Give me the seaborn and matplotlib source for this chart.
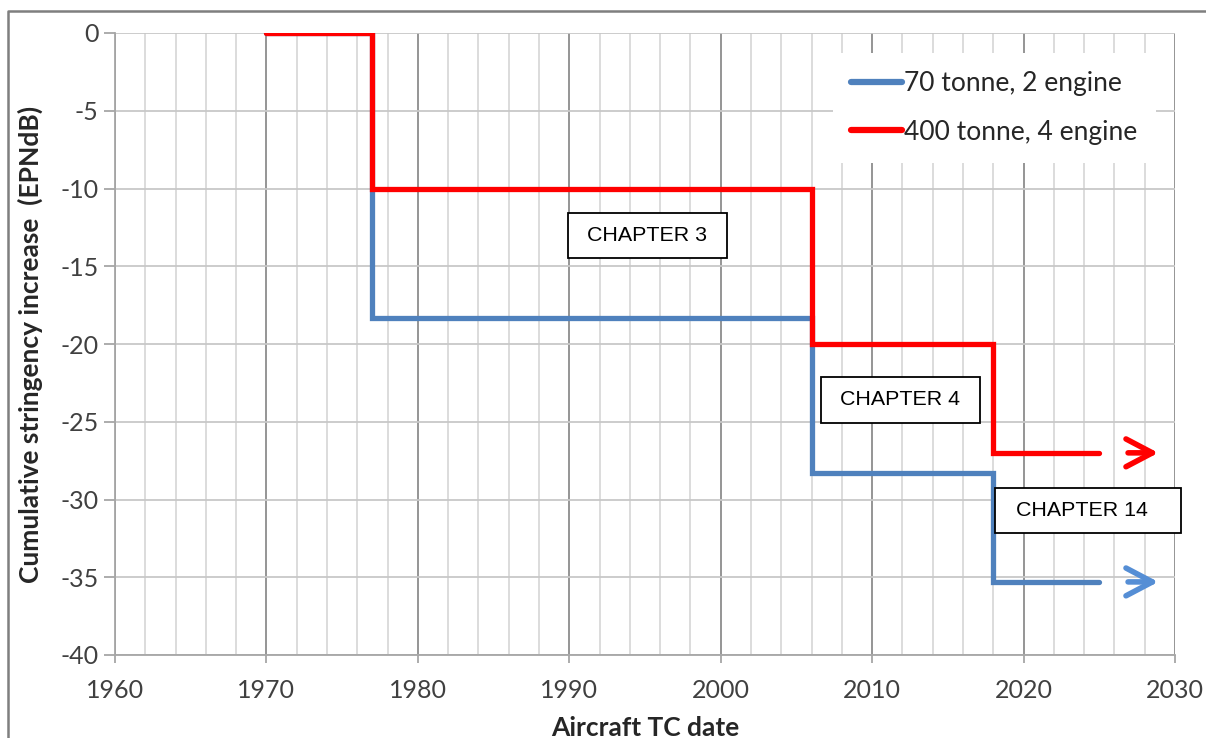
import numpy as np
import pandas as pd
import seaborn as sns
import matplotlib.pyplot as plt
from matplotlib.patches import Rectangle
from matplotlib.lines import Line2D

# Noise stringency steps by aircraft type-certification date
years = [1970, 1977, 2006, 2018, 2025]
small_twin = [0, -18.3, -28.3, -35.3, -35.3]      # 70 tonne, 2 engine
large_quad = [0, -10, -20, -27, -27]              # 400 tonne, 4 engine
series_names = ["70 tonne, 2 engine", "400 tonne, 4 engine"]
chapters = ["CHAPTER 3", "CHAPTER 4", "CHAPTER 14"]

df = pd.concat([
    pd.DataFrame({"year": years, "level": small_twin, "aircraft": series_names[0]}),
    pd.DataFrame({"year": years, "level": large_quad, "aircraft": series_names[1]}),
])

sns.set_theme(style="white")
plt.rcParams["font.family"] = ["Lato", "DejaVu Sans"]
plt.rcParams["axes.unicode_minus"] = False

BLUE = "#4f81bd"
RED = "#ff0000"

fig = plt.figure(figsize=(12.06, 7.38), dpi=100)
ax = fig.add_axes([115 / 1206, 1 - 655 / 738, 1060 / 1206, 622 / 738])

sns.lineplot(data=df, x="year", y="level", hue="aircraft",
             palette={series_names[0]: BLUE, series_names[1]: RED},
             estimator=None, sort=False, drawstyle="steps-post",
             linewidth=3.8, solid_capstyle="round", solid_joinstyle="miter",
             ax=ax, zorder=3)

# Continuation arrows after the last step
for vals, col in [(small_twin, "#558ed5"), (large_quad, RED)]:
    ax.annotate("", xy=(2028.9, vals[-1]), xytext=(2026.9, vals[-1]),
                arrowprops=dict(arrowstyle="->,head_length=0.95,head_width=0.5",
                                color=col, lw=4.0, mutation_scale=20,
                                capstyle="round", joinstyle="round",
                                shrinkA=0, shrinkB=0),
                annotation_clip=False, zorder=4)

ax.set_xlim(1960, 2030)
ax.set_ylim(-40, 0)
ax.set_xticks(np.arange(1960, 2031, 10))
ax.set_xticks(np.arange(1960, 2031, 2), minor=True)
ax.set_yticks(np.arange(-40, 1, 5))

ax.grid(which="minor", axis="x", color="#d9d9d9", lw=1.3, zorder=0)
ax.grid(which="major", axis="x", color="#8c8c8c", lw=1.3, zorder=0)
ax.grid(which="major", axis="y", color="#c8c8c8", lw=1.3, zorder=0)
ax.set_axisbelow(True)

for s in ["top", "right"]:
    ax.spines[s].set_visible(False)
for s in ["left", "bottom"]:
    ax.spines[s].set_color("#a6a6a6")
    ax.spines[s].set_linewidth(1.3)

ax.tick_params(axis="x", which="major", direction="out", length=6, width=1.3,
               color="#a6a6a6", labelsize=18, labelcolor="#404040", pad=11,
               bottom=True)
ax.tick_params(axis="x", which="minor", length=0)
ax.tick_params(axis="y", which="major", direction="out", length=8, width=1.3,
               color="#a6a6a6", labelsize=18, labelcolor="#404040", pad=4,
               left=True)

ax.set_xlabel("Aircraft TC date", fontsize=19, fontweight="bold",
              color="#262626", labelpad=10)
ax.set_ylabel("Cumulative stringency increase  (EPNdB)", fontsize=19,
              fontweight="bold", color="#262626", labelpad=12)

leg = ax.legend(loc="upper right", bbox_to_anchor=(0.982, 0.968), fontsize=19,
                frameon=True, facecolor="white", edgecolor="none",
                framealpha=1, handlelength=1.9, handletextpad=0.1,
                labelspacing=0.88, borderpad=0.7, borderaxespad=0,
                fancybox=False)
for h in leg.get_lines():
    h.set_linewidth(4.5)
    h.set_solid_capstyle("round")
for t in leg.get_texts():
    t.set_color("#262626")

# Chapter label boxes: (x0, x1, y0, y1) in data units
boxes = [(1989.9, 2000.4, -14.47, -11.58),
         (2006.6, 2017.1, -25.08, -22.12),
         (2018.1, 2030.4, -32.15, -29.26)]
for label, (x0, x1, y0, y1) in zip(chapters, boxes):
    ax.add_patch(Rectangle((x0, y0), x1 - x0, y1 - y0, facecolor="white",
                           edgecolor="black", lw=1.3, zorder=5, clip_on=False))
    cx = (x0 + x1) / 2 - (0.4 if label == "CHAPTER 14" else 0)
    ax.text(cx, (y0 + y1) / 2, label, ha="center", va="center",
            fontsize=15.4, family=["Liberation Sans", "DejaVu Sans"],
            color="black", zorder=6)

# Outer frame around the figure
fx, fy = 8 / 1206, 1 - 11 / 738
fig.add_artist(Line2D([fx, fx, 1.0], [0.0, fy, fy], color="#7f7f7f", lw=1.8,
                      transform=fig.transFigure))

fig.savefig("out.png", dpi=100)
